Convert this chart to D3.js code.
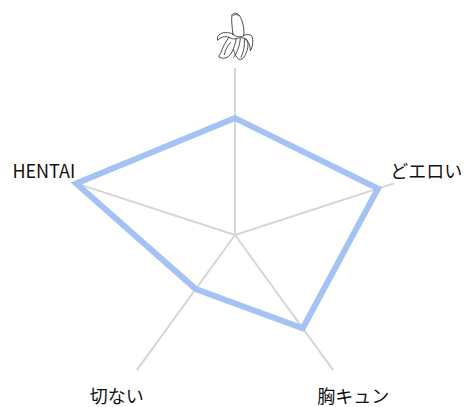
<!DOCTYPE html>
<meta charset="utf-8">
<style>
  body { margin: 0; background: #fff; }
  text { font-family: "Noto Sans CJK JP", sans-serif; font-size: 18px; fill: #111; }
</style>
<script src="https://d3js.org/d3.v7.min.js"></script>
<div id="my_dataviz"></div>
<script>
    // the top axis has a banana picture instead of a label
    var categories = ["banana", "どエロい", "胸キュン", "切ない", "HENTAI"];
    var values = [7, 9, 6.9, 4, 10];
    var maxValue = 10;

    var width = 470, height = 407;
    var cx = 235, cy = 235, radius = 167, labelRadius = 201;

    var svg = d3.select("#my_dataviz")
      .append("svg")
        .attr("width", width)
        .attr("height", height)
        .style("display", "block")
      .append("g")
        .attr("transform", "translate(" + cx + "," + cy + ")");

    var r = d3.scaleLinear().domain([0, maxValue]).range([0, radius]);
    var angle = d3.scalePoint()
      .domain(categories)
      .range([0, 2 * Math.PI * (categories.length - 1) / categories.length]);

    // spokes
    svg.selectAll(".spoke")
      .data(categories)
      .enter()
      .append("line")
        .attr("x1", 0)
        .attr("y1", 0)
        .attr("x2", function(d) { return r(maxValue) * Math.sin(angle(d)); })
        .attr("y2", function(d) { return -r(maxValue) * Math.cos(angle(d)); })
        .style("stroke", "#d6d6d6")
        .style("stroke-width", 2);

    // the data polygon
    var line = d3.lineRadial()
      .angle(function(d, i) { return angle(categories[i]); })
      .radius(function(d) { return r(d); })
      .curve(d3.curveLinearClosed);

    svg.append("path")
      .datum(values)
      .attr("d", line)
      .style("fill", "none")
      .style("stroke", "#a4c2f4")
      .style("stroke-width", 6)
      .style("stroke-linejoin", "miter");

    // labels
    svg.selectAll(".label")
      .data(categories.slice(1))
      .enter()
      .append("text")
        .attr("x", function(d) { return labelRadius * Math.sin(angle(d)); })
        .attr("y", function(d) { return -labelRadius * Math.cos(angle(d)) - 2.5; })
        .attr("text-anchor", "middle")
        .attr("dominant-baseline", "central")
        .text(function(d) { return d; });

    // banana icon, drawn at 3x and scaled down, centred on the top label spot
    var banana = svg.append("g")
      .attr("transform", "translate(0," + (-labelRadius + 2) + ") scale(0.3333) translate(-120,-108)")
      .style("fill", "#fff")
      .style("stroke", "#333")
      .style("stroke-width", 2.6)
      .style("stroke-linejoin", "round")
      .style("stroke-linecap", "round");

    [
      "M114,103C112,85 108,60 111,44C115,38 128,38 133,46C143,62 149,85 146,108C138,112 124,112 114,103Z",
      "M114,46C122,42 128,43 131,47",
      "M146,106C154,102 162,103 170,107C176,118 174,140 166,152C166,136 160,122 150,116",
      "M114,102C100,96 82,95 72,105C67,110 66,116 68,121C76,112 90,107 102,112C92,126 82,142 78,158C74,164 70,168 72,171C80,176 92,176 100,170C112,160 120,136 124,116",
      "M102,112C108,116 118,118 124,116C136,112 148,112 156,120C162,132 158,152 150,166C146,174 138,180 132,178C124,174 118,160 116,150",
      "M106,128C96,140 90,152 88,164",
      "M136,116C134,136 126,160 116,172",
      "M148,118C150,136 146,156 138,172"
    ].forEach(function(p, i) {
      banana.append("path").attr("d", p).style("fill", i < 1 ? "#fff" : "none");
    });
</script>
